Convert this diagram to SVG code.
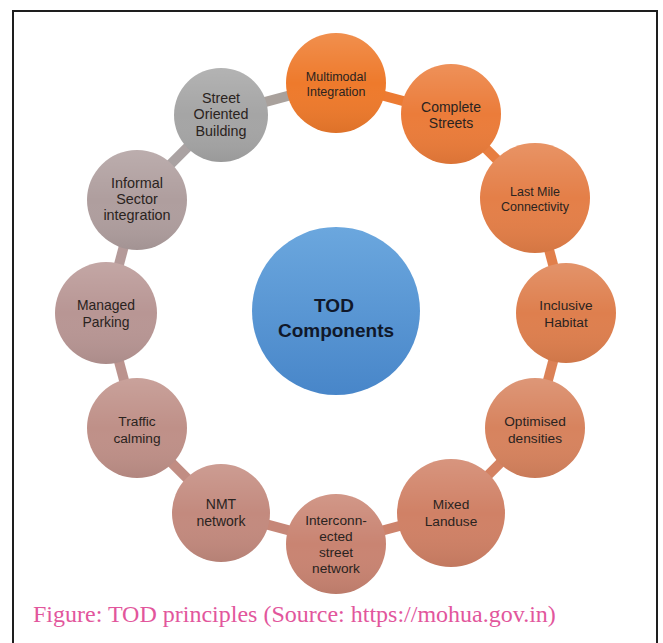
<svg xmlns="http://www.w3.org/2000/svg" width="663" height="643" viewBox="0 0 663 643">
  <style>
    .lbl { font-family: "Liberation Sans", Arial, sans-serif; fill: #2a2320; text-anchor: middle; }
    .hub { font-family: "Liberation Sans", Arial, sans-serif; font-weight: bold; fill: #10182a; text-anchor: middle; font-size: 19px; }
    .cap { font-family: "Liberation Serif", "Times New Roman", serif; fill: #e2569c; font-size: 24px; }
    .link { stroke-width: 10; stroke-linecap: butt; }
  </style>
  <defs>
    <linearGradient id="shade" x1="0" y1="0" x2="0" y2="1">
      <stop offset="0" stop-color="#ffffff" stop-opacity="0.16"/>
      <stop offset="0.5" stop-color="#ffffff" stop-opacity="0"/>
      <stop offset="1" stop-color="#000000" stop-opacity="0.07"/>
    </linearGradient>
    <linearGradient id="hubfill" x1="0" y1="0" x2="0" y2="1">
      <stop offset="0" stop-color="#6ba7de"/>
      <stop offset="1" stop-color="#4886c9"/>
    </linearGradient>
  </defs>

  <rect x="0" y="0" width="663" height="643" fill="#ffffff"/>
  <rect x="13" y="11" width="644" height="650" fill="none" stroke="#1e1e1e" stroke-width="2"/>

  <g id="connectors">
    <line class="link" x1="336" y1="83" x2="451" y2="113.8" stroke="#ec7b33"/>
    <line class="link" x1="451" y1="113.8" x2="535.2" y2="198" stroke="#e77e41"/>
    <line class="link" x1="535.2" y1="198" x2="566" y2="313" stroke="#e17f4b"/>
    <line class="link" x1="566" y1="313" x2="535.2" y2="428" stroke="#db8156"/>
    <line class="link" x1="535.2" y1="428" x2="451" y2="512.2" stroke="#d48262"/>
    <line class="link" x1="451" y1="512.2" x2="336" y2="543" stroke="#cd836c"/>
    <line class="link" x1="336" y1="543" x2="221" y2="512.2" stroke="#c68778"/>
    <line class="link" x1="221" y1="512.2" x2="136.8" y2="428" stroke="#c18d83"/>
    <line class="link" x1="136.8" y1="428" x2="106" y2="313" stroke="#bb938e"/>
    <line class="link" x1="106" y1="313" x2="136.8" y2="198" stroke="#b49a99"/>
    <line class="link" x1="136.8" y1="198" x2="221" y2="113.8" stroke="#aaa2a2"/>
    <line class="link" x1="221" y1="113.8" x2="336" y2="83" stroke="#a9a19c"/>
  </g>

  <g id="hub">
    <circle cx="336" cy="311" r="84" fill="url(#hubfill)"/>
    <text class="hub" x="334" y="312">TOD</text>
    <text class="hub" x="336" y="337">Components</text>
  </g>

  <g id="n-multimodal">
    <circle cx="336" cy="83" r="50" fill="#ee7a2c"/>
    <circle cx="336" cy="83" r="50" fill="url(#shade)"/>
    <text class="lbl" font-size="12.5" x="336" y="81">Multimodal</text>
    <text class="lbl" font-size="12.5" x="336" y="96">Integration</text>
  </g>
  <g id="n-complete">
    <circle cx="451" cy="114" r="50" fill="#eb7c3a"/>
    <circle cx="451" cy="114" r="50" fill="url(#shade)"/>
    <text class="lbl" font-size="14" x="451" y="112">Complete</text>
    <text class="lbl" font-size="14" x="451" y="128">Streets</text>
  </g>
  <g id="n-lastmile">
    <circle cx="535" cy="198" r="55" fill="#e47f48"/>
    <circle cx="535" cy="198" r="55" fill="url(#shade)"/>
    <text class="lbl" font-size="12.5" x="535" y="196">Last Mile</text>
    <text class="lbl" font-size="12.5" x="535" y="211">Connectivity</text>
  </g>
  <g id="n-inclusive">
    <circle cx="566" cy="313" r="50" fill="#de7f4e"/>
    <circle cx="566" cy="313" r="50" fill="url(#shade)"/>
    <text class="lbl" font-size="13.7" x="566" y="310">Inclusive</text>
    <text class="lbl" font-size="13.7" x="566" y="327">Habitat</text>
  </g>
  <g id="n-optimised">
    <circle cx="535" cy="428" r="50" fill="#d7835e"/>
    <circle cx="535" cy="428" r="50" fill="url(#shade)"/>
    <text class="lbl" font-size="13.7" x="535" y="426">Optimised</text>
    <text class="lbl" font-size="13.7" x="535" y="443">densities</text>
  </g>
  <g id="n-mixed">
    <circle cx="451" cy="513" r="54" fill="#d08166"/>
    <circle cx="451" cy="513" r="54" fill="url(#shade)"/>
    <text class="lbl" font-size="13.7" x="451" y="509">Mixed</text>
    <text class="lbl" font-size="13.7" x="451" y="526">Landuse</text>
  </g>
  <g id="n-interconnected">
    <circle cx="336" cy="544" r="50" fill="#c98472"/>
    <circle cx="336" cy="544" r="50" fill="url(#shade)"/>
    <text class="lbl" font-size="13.7" x="336" y="525">Interconn-</text>
    <text class="lbl" font-size="13.7" x="336" y="541">ected</text>
    <text class="lbl" font-size="13.7" x="336" y="557">street</text>
    <text class="lbl" font-size="13.7" x="336" y="573">network</text>
  </g>
  <g id="n-nmt">
    <circle cx="221" cy="513" r="49" fill="#c38a7e"/>
    <circle cx="221" cy="513" r="49" fill="url(#shade)"/>
    <text class="lbl" font-size="14" x="221" y="509">NMT</text>
    <text class="lbl" font-size="14" x="221" y="526">network</text>
  </g>
  <g id="n-traffic">
    <circle cx="137" cy="428" r="50" fill="#bf9088"/>
    <circle cx="137" cy="428" r="50" fill="url(#shade)"/>
    <text class="lbl" font-size="13.7" x="137" y="426">Traffic</text>
    <text class="lbl" font-size="13.7" x="137" y="443">calming</text>
  </g>
  <g id="n-parking">
    <circle cx="106" cy="313" r="51" fill="#b89694"/>
    <circle cx="106" cy="313" r="51" fill="url(#shade)"/>
    <text class="lbl" font-size="13.9" x="106" y="310">Managed</text>
    <text class="lbl" font-size="13.9" x="106" y="327">Parking</text>
  </g>
  <g id="n-informal">
    <circle cx="137" cy="200" r="50" fill="#af9e9e"/>
    <circle cx="137" cy="200" r="50" fill="url(#shade)"/>
    <text class="lbl" font-size="14.4" x="137" y="188">Informal</text>
    <text class="lbl" font-size="14.4" x="137" y="204">Sector</text>
    <text class="lbl" font-size="14.4" x="137" y="220">integration</text>
  </g>
  <g id="n-street">
    <circle cx="221" cy="115" r="47" fill="#a5a5a5"/>
    <circle cx="221" cy="115" r="47" fill="url(#shade)"/>
    <text class="lbl" font-size="14.3" x="221" y="103">Street</text>
    <text class="lbl" font-size="14.3" x="221" y="119">Oriented</text>
    <text class="lbl" font-size="14.3" x="221" y="136">Building</text>
  </g>

  <text class="cap" x="33" y="622">Figure: TOD principles (Source: https://mohua.gov.in)</text>
</svg>
